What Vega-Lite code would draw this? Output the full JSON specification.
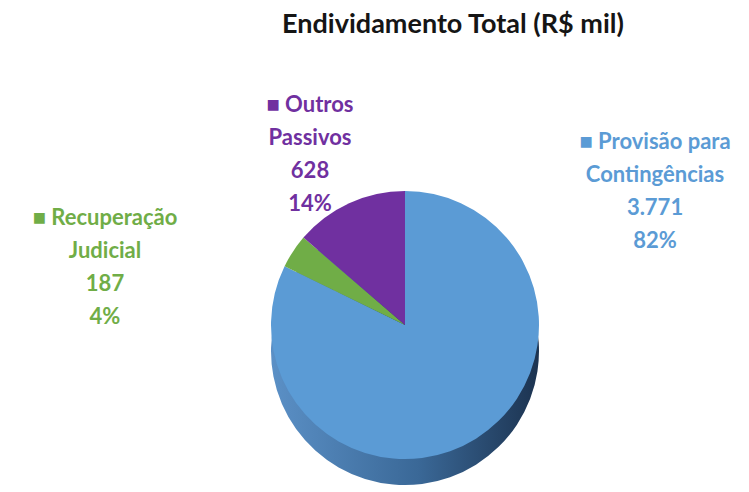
{
  "$schema": "https://vega.github.io/schema/vega-lite/v6.json",
  "width": 688,
  "height": 334,
  "autosize": {"type": "none"},
  "padding": {"left": 61, "top": 158, "right": 0, "bottom": 0},
  "background": "white",
  "view": {"stroke": null},
  "title": {
    "text": "Endividamento Total (R$ mil)",
    "font": "Lato",
    "fontSize": 27,
    "fontWeight": "bold",
    "color": "#151515",
    "anchor": "middle",
    "frame": "group",
    "dx": 48,
    "offset": 55
  },
  "data": {
    "values": [
      {"categoria": "Provisão para Contingências", "valor": 3771, "ordem": 1, "rotulo": "■  Provisão para\nContingências\n3.771\n82%"},
      {"categoria": "Recuperação Judicial", "valor": 187, "ordem": 2, "rotulo": "■  Recuperação\nJudicial\n187\n4%"},
      {"categoria": "Outros Passivos", "valor": 628, "ordem": 3, "rotulo": "■  Outros\nPassivos\n628\n14%"}
    ]
  },
  "layer": [
    {
      "mark": {
        "type": "arc",
        "radius": 134,
        "yOffset": 26,
        "stroke": null,
        "color": {
          "gradient": "linear",
          "x1": 0, "y1": 0, "x2": 1, "y2": 0,
          "stops": [
            {"offset": 0, "color": "#5b90c6"},
            {"offset": 0.55, "color": "#3a6897"},
            {"offset": 1, "color": "#1c3350"}
          ]
        }
      },
      "encoding": {
        "theta": {"field": "valor", "type": "quantitative", "stack": true},
        "order": {"field": "ordem", "type": "quantitative"}
      }
    },
    {
      "mark": {"type": "arc", "radius": 134, "stroke": null},
      "encoding": {
        "theta": {"field": "valor", "type": "quantitative", "stack": true},
        "order": {"field": "ordem", "type": "quantitative"},
        "color": {
          "field": "categoria",
          "type": "nominal",
          "scale": {
            "domain": ["Provisão para Contingências", "Recuperação Judicial", "Outros Passivos"],
            "range": ["#5b9bd5", "#70ad47", "#7030a0"]
          },
          "legend": null
        }
      }
    },
    {
      "transform": [{"filter": "datum.ordem == 1"}],
      "mark": {"type": "text", "font": "Lato", "fontSize": 22, "fontWeight": "bold", "color": "#5b9bd5", "align": "center", "baseline": "middle", "lineBreak": "\n", "lineHeight": 33, "dx": 250, "dy": -183},
      "encoding": {"text": {"field": "rotulo", "type": "nominal"}}
    },
    {
      "transform": [{"filter": "datum.ordem == 2"}],
      "mark": {"type": "text", "font": "Lato", "fontSize": 22, "fontWeight": "bold", "color": "#70ad47", "align": "center", "baseline": "middle", "lineBreak": "\n", "lineHeight": 33, "dx": -300, "dy": -107},
      "encoding": {"text": {"field": "rotulo", "type": "nominal"}}
    },
    {
      "transform": [{"filter": "datum.ordem == 3"}],
      "mark": {"type": "text", "font": "Lato", "fontSize": 22, "fontWeight": "bold", "color": "#7030a0", "align": "center", "baseline": "middle", "lineBreak": "\n", "lineHeight": 33, "dx": -95, "dy": -220},
      "encoding": {"text": {"field": "rotulo", "type": "nominal"}}
    }
  ]
}
